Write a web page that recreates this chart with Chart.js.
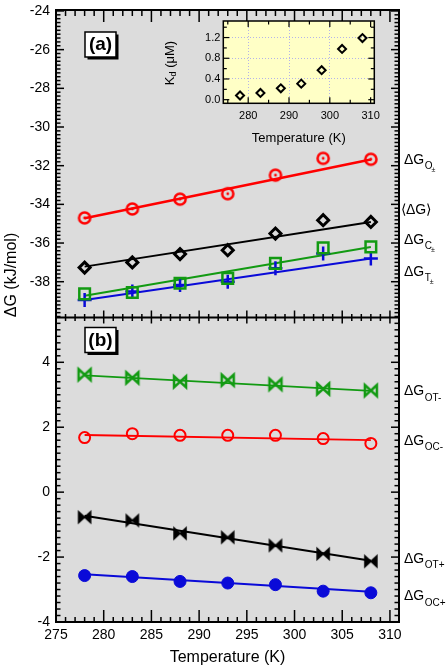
<!DOCTYPE html>
<html>
<head>
<meta charset="utf-8">
<script src="https://cdn.jsdelivr.net/npm/chart.js@4.4.0/dist/chart.umd.min.js"></script>
<style>
body { margin: 0; background: #fff; }
#wrap { position: relative; width: 448px; height: 670px; }
#inset { position: absolute; left: 150px; top: 10px; }
</style>
</head>
<body>
<div id="wrap">
  <canvas id="main" width="448" height="670"></canvas>
  <canvas id="inset" width="235" height="140"></canvas>
</div>
<script>
const temps = [278, 283, 288, 293, 298, 303, 308];
const fitTemps = [278, 308];

// panel (a), kJ/mol
const dgO = [-34.70, -34.24, -33.73, -33.45, -32.49, -31.62, -31.67];
const dgAvg = [-37.27, -37.00, -36.57, -36.37, -35.51, -34.82, -34.91];
const dgC = [-38.63, -38.56, -38.08, -37.83, -37.05, -36.25, -36.20];
const dgT = [-38.94, -38.51, -38.17, -38.00, -37.31, -36.54, -36.80];
const fitO = [-34.72, -31.68];
const fitAvg = [-37.22, -34.91];
const fitC = [-38.72, -36.20];
const fitT = [-38.95, -36.80];

// panel (b)
const dgOTm = [3.62, 3.52, 3.40, 3.45, 3.32, 3.18, 3.13];
const dgOCm = [1.68, 1.80, 1.75, 1.75, 1.75, 1.65, 1.50];
const dgOTp = [-0.77, -0.87, -1.27, -1.39, -1.64, -1.90, -2.13];
const dgOCp = [-2.57, -2.60, -2.75, -2.80, -2.85, -3.05, -3.10];
const fitOTm = [3.60, 3.12];
const fitOCm = [1.76, 1.60];
const fitOTp = [-0.73, -2.11];
const fitOCp = [-2.53, -3.07];

// inset, Kd in uM
const kd = [0.08, 0.13, 0.22, 0.31, 0.57, 0.98, 1.19];

const xTicks = [275, 280, 285, 290, 295, 300, 305, 310];
const yTicksA = [-38, -36, -34, -32, -30, -28, -26, -24];
const yTicksB = [-4, -2, 0, 2, 4];
const insetXTicks = [280, 290, 300, 310];
const insetYTicks = [0, 0.4, 0.8, 1.2];

// series names on the right and the value they sit at
const namesA = [['ΔG', 'O', '±'], ['⟨ΔG⟩', '', ''], ['ΔG', 'C', '±'], ['ΔG', 'T', '±']];
const nameAtA = [-31.7, -34.3, -35.85, -37.5];
const namesB = [['ΔG', 'OT-'], ['ΔG', 'OC-'], ['ΔG', 'OT+'], ['ΔG', 'OC+']];
const nameAtB = [3.1, 1.57, -2.06, -3.21];

const RED = '#ff0000';
const BLACK = '#000000';
const GREEN = '#129a12';
const BLUE = '#0a0ad8';
const FONT = "'Liberation Sans', Arial, sans-serif";

Chart.defaults.color = '#000';
Chart.defaults.font.family = FONT;

function marker(size, paint) {
    const c = document.createElement('canvas');
    c.width = size;
    c.height = size;
    paint(c.getContext('2d'), size / 2);
    return c;
}

const circleDot = marker(18, (g, m) => {
    g.strokeStyle = RED;
    g.lineWidth = 2.5;
    g.beginPath();
    g.arc(m, m, 5.6, 0, Math.PI * 2);
    g.stroke();
    g.fillStyle = RED;
    g.beginPath();
    g.arc(m, m, 1.4, 0, Math.PI * 2);
    g.fill();
});

function bowtie(color, filled) {
    return marker(18, (g, m) => {
        g.beginPath();
        g.moveTo(m - 6, m - 5.5);
        g.lineTo(m, m);
        g.lineTo(m - 6, m + 5.5);
        g.closePath();
        g.moveTo(m + 6, m - 5.5);
        g.lineTo(m, m);
        g.lineTo(m + 6, m + 5.5);
        g.closePath();
        g.lineJoin = 'miter';
        g.strokeStyle = color;
        g.lineWidth = filled ? 1.5 : 2.5;
        if (filled) {
            g.fillStyle = color;
            g.fill();
        }
        g.stroke();
    });
}

function pts(ys) {
    return temps.map((t, i) => ({ x: t, y: ys[i] }));
}

function markers(ys, axis, style, radius, color, bw, fill) {
    return {
        data: pts(ys), yAxisID: axis, showLine: false,
        pointStyle: style, pointRadius: radius, pointHoverRadius: radius,
        pointBorderColor: color, pointBackgroundColor: fill || 'rgba(0,0,0,0)',
        pointBorderWidth: bw
    };
}

function fitLine(ys, axis, color, w) {
    return {
        data: fitTemps.map((t, i) => ({ x: t, y: ys[i] })), yAxisID: axis,
        showLine: true, borderColor: color, borderWidth: w, pointRadius: 0
    };
}

function stepRun(from, to, step, cb) {
    const n0 = Math.ceil(from / step - 1e-6);
    const n1 = Math.floor(to / step + 1e-6);
    for (let k = n0; k <= n1; k++) cb(k * step);
}

function isMult(v, m) {
    return Math.abs(v / m - Math.round(v / m)) < 1e-6;
}

function seg(ctx, x1, y1, x2, y2) {
    ctx.beginPath();
    ctx.moveTo(x1, y1);
    ctx.lineTo(x2, y2);
    ctx.stroke();
}

function subLabel(ctx, x, y, main, sub, sub2) {
    ctx.textAlign = 'left';
    ctx.textBaseline = 'middle';
    ctx.fillStyle = '#000';
    ctx.font = '14px ' + FONT;
    ctx.fillText(main, x, y);
    if (!sub) return;
    const w = ctx.measureText(main).width;
    ctx.font = '10px ' + FONT;
    ctx.fillText(sub, x + w + 0.5, y + 6.5);
    if (sub2) {
        const w2 = ctx.measureText(sub).width;
        ctx.font = '7px ' + FONT;
        ctx.fillText(sub2, x + w + w2 - 0.5, y + 10);
    }
}

function panelTag(ctx, x, y, text) {
    ctx.fillStyle = '#000';
    ctx.fillRect(x + 2.5, y + 2.5, 31, 25);
    ctx.fillStyle = '#fff';
    ctx.fillRect(x, y, 31, 25);
    ctx.strokeStyle = '#000';
    ctx.lineWidth = 1.5;
    ctx.strokeRect(x, y, 31, 25);
    ctx.fillStyle = '#000';
    ctx.font = 'bold 19px ' + FONT;
    ctx.textAlign = 'center';
    ctx.textBaseline = 'middle';
    ctx.fillText(text, x + 15.5, y + 13);
}

const mainDecor = {
    id: 'mainDecor',
    beforeDraw(chart) {
        const { ctx, chartArea: a } = chart;
        ctx.save();
        ctx.fillStyle = '#dcdcdc';
        ctx.fillRect(a.left, a.top, a.right - a.left, a.bottom - a.top);
        ctx.restore();
    },
    afterDatasetsDraw(chart) {
        const { ctx, chartArea: a } = chart;
        const xs = chart.scales.x, ya = chart.scales.yA, yb = chart.scales.yB;
        const sep = ya.bottom;
        ctx.save();
        ctx.strokeStyle = '#000';
        ctx.lineWidth = 1.5;
        [ya, yb].forEach(s => {
            stepRun(s.min, s.max, 0.2, v => {
                const y = s.getPixelForValue(v);
                const len = isMult(v, 2) ? 8 : 4.5;
                seg(ctx, a.left, y, a.left + len, y);
                seg(ctx, a.right, y, a.right - len, y);
            });
        });
        stepRun(xs.min, xs.max, 1, v => {
            const x = xs.getPixelForValue(v);
            const major = isMult(v, 5);
            seg(ctx, x, a.top, x, a.top + (major ? 12 : 6));
            seg(ctx, x, a.bottom, x, a.bottom - (major ? 12 : 5));
            seg(ctx, x, sep - (major ? 7 : 3.5), x, sep + (major ? 6 : 3.5));
        });
        ctx.lineWidth = 2;
        ctx.strokeRect(a.left, a.top, a.right - a.left, a.bottom - a.top);
        seg(ctx, a.left, sep, a.right, sep);
        panelTag(ctx, a.left + 29, a.top + 22, '(a)');
        panelTag(ctx, a.left + 29, sep + 10, '(b)');
        ctx.restore();
    },
    afterDraw(chart) {
        const { ctx, chartArea: a } = chart;
        const ya = chart.scales.yA, yb = chart.scales.yB;
        ctx.save();
        namesA.forEach((n, i) => {
            const x = n[0].startsWith('⟨') ? a.right + 2 : a.right + 5;
            subLabel(ctx, x, ya.getPixelForValue(nameAtA[i]), n[0], n[1], n[2]);
        });
        namesB.forEach((n, i) => {
            subLabel(ctx, a.right + 5, yb.getPixelForValue(nameAtB[i]), n[0], n[1]);
        });
        ctx.translate(12, 275);
        ctx.rotate(-Math.PI / 2);
        ctx.font = '16px ' + FONT;
        ctx.textAlign = 'center';
        ctx.textBaseline = 'middle';
        ctx.fillStyle = '#000';
        ctx.fillText('ΔG (kJ/mol)', 0, 0);
        ctx.restore();
    }
};

const tickFont = { family: FONT, size: 14 };

new Chart(document.getElementById('main'), {
    type: 'scatter',
    data: {
        datasets: [
            markers(dgO, 'yA', circleDot, 6, RED, 2.5),
            markers(dgAvg, 'yA', 'rectRot', 5.5, BLACK, 3),
            markers(dgC, 'yA', 'rect', 7.5, GREEN, 2.5),
            markers(dgT, 'yA', 'cross', 7, BLUE, 2.5),
            markers(dgOTm, 'yB', bowtie(GREEN, false), 6, GREEN, 2),
            markers(dgOCm, 'yB', 'circle', 5.5, RED, 2),
            markers(dgOTp, 'yB', bowtie(BLACK, true), 6, BLACK, 2),
            markers(dgOCp, 'yB', 'circle', 6, BLUE, 1, BLUE),
            fitLine(fitO, 'yA', RED, 2.5),
            fitLine(fitAvg, 'yA', BLACK, 2),
            fitLine(fitC, 'yA', GREEN, 2),
            fitLine(fitT, 'yA', BLUE, 2),
            fitLine(fitOTm, 'yB', GREEN, 1.8),
            fitLine(fitOCm, 'yB', RED, 1.8),
            fitLine(fitOTp, 'yB', BLACK, 2),
            fitLine(fitOCp, 'yB', BLUE, 2)
        ]
    },
    options: {
        responsive: false,
        animation: false,
        events: [],
        devicePixelRatio: 1,
        layout: { padding: { top: 7, right: 49, left: 0, bottom: 0 } },
        plugins: { legend: { display: false }, tooltip: { enabled: false } },
        scales: {
            x: {
                type: 'linear', position: 'bottom', min: 275, max: 310.95,
                grid: { display: false, drawTicks: false }, border: { display: false },
                ticks: { font: tickFont, color: '#000', padding: 5, autoSkip: false, maxRotation: 0 },
                afterBuildTicks: s => { s.ticks = xTicks.map(v => ({ value: v })); },
                afterFit: s => { s.height = 48; s.paddingLeft = 0; s.paddingRight = 0; },
                title: { display: true, text: 'Temperature (K)', font: { family: FONT, size: 16 }, color: '#000', padding: { top: 0, bottom: 3 } }
            },
            // bottom panel listed first: the stacked left boxes are laid out in reverse
            yB: {
                type: 'linear', position: 'left', stack: 'panels', stackWeight: 306,
                min: -4, max: 5.38,
                grid: { display: false, drawTicks: false }, border: { display: false },
                ticks: { font: tickFont, color: '#000', padding: 6 },
                afterBuildTicks: s => { s.ticks = yTicksB.map(v => ({ value: v })); },
                afterFit: s => { s.width = 56; s.paddingTop = 0; s.paddingBottom = 0; }
            },
            yA: {
                type: 'linear', position: 'left', stack: 'panels', stackWeight: 309,
                min: -39.85, max: -23.95,
                grid: { display: false, drawTicks: false }, border: { display: false },
                ticks: { font: tickFont, color: '#000', padding: 6 },
                afterBuildTicks: s => { s.ticks = yTicksA.map(v => ({ value: v })); },
                afterFit: s => { s.width = 56; s.paddingTop = 0; s.paddingBottom = 0; }
            }
        }
    },
    plugins: [mainDecor]
});

const insetDecor = {
    id: 'insetDecor',
    beforeDraw(chart) {
        const { ctx, chartArea: a } = chart;
        ctx.save();
        ctx.fillStyle = '#ffffc6';
        ctx.fillRect(a.left, a.top, a.right - a.left, a.bottom - a.top);
        ctx.restore();
    },
    afterDatasetsDraw(chart) {
        const { ctx, chartArea: a } = chart;
        const xs = chart.scales.x, ys = chart.scales.y;
        ctx.save();
        ctx.strokeStyle = '#000';
        ctx.lineWidth = 1.2;
        stepRun(ys.min, ys.max, 0.2, v => {
            const y = ys.getPixelForValue(v);
            const len = isMult(v, 0.4) ? 6 : 3.5;
            seg(ctx, a.left, y, a.left + len, y);
            seg(ctx, a.right, y, a.right - len, y);
        });
        stepRun(xs.min, xs.max, 5, v => {
            const x = xs.getPixelForValue(v);
            const len = isMult(v, 10) ? 6 : 3.5;
            seg(ctx, x, a.top, x, a.top + len);
            seg(ctx, x, a.bottom, x, a.bottom - len);
        });
        ctx.lineWidth = 1.5;
        ctx.strokeRect(a.left, a.top, a.right - a.left, a.bottom - a.top);

        // K_d (uM) axis title
        ctx.translate(20, 53);
        ctx.rotate(-Math.PI / 2);
        ctx.fillStyle = '#000';
        ctx.textBaseline = 'middle';
        ctx.textAlign = 'left';
        const big = '13px ' + FONT, small = '9px ' + FONT;
        ctx.font = big;
        const wK = ctx.measureText('K').width;
        const wRest = ctx.measureText(' (μM)').width;
        ctx.font = small;
        const wd = ctx.measureText('d').width;
        let x = -(wK + wd + wRest) / 2;
        ctx.font = big;
        ctx.fillText('K', x, 0);
        x += wK;
        ctx.font = small;
        ctx.fillText('d', x, 4);
        x += wd;
        ctx.font = big;
        ctx.fillText(' (μM)', x, 0);
        ctx.restore();
    }
};

const insetTickFont = { family: FONT, size: 11 };

new Chart(document.getElementById('inset'), {
    type: 'scatter',
    data: {
        datasets: [{
            data: pts(kd), showLine: false, pointStyle: 'rectRot',
            pointRadius: 4, pointBorderColor: BLACK, pointBorderWidth: 2,
            pointBackgroundColor: 'rgba(0,0,0,0)'
        }]
    },
    options: {
        responsive: false,
        animation: false,
        events: [],
        devicePixelRatio: 1,
        layout: { padding: { top: 11, right: 10.7, left: 0, bottom: 0 } },
        plugins: { legend: { display: false }, tooltip: { enabled: false } },
        scales: {
            x: {
                type: 'linear', min: 273.9, max: 310.9,
                grid: {
                    drawTicks: false, lineWidth: 1,
                    color: c => (c.tick && c.tick.value >= 305) ? 'rgba(0,0,0,0)' : '#b4b4e8'
                },
                border: { display: false, dash: [1, 2] },
                ticks: { font: insetTickFont, color: '#000', padding: 6, autoSkip: false, maxRotation: 0 },
                afterBuildTicks: s => { s.ticks = insetXTicks.map(v => ({ value: v })); },
                afterFit: s => { s.height = 46.7; s.paddingLeft = 0; s.paddingRight = 0; },
                title: { display: true, text: 'Temperature (K)', font: { family: FONT, size: 13 }, color: '#000', padding: { top: 0, bottom: 4 } }
            },
            y: {
                type: 'linear', min: -0.07, max: 1.52,
                grid: {
                    drawTicks: false, lineWidth: 1,
                    color: c => (c.tick && Math.abs(c.tick.value) < 1e-6) ? 'rgba(0,0,0,0)' : '#b4b4e8'
                },
                border: { display: false, dash: [1, 2] },
                ticks: { font: insetTickFont, color: '#000', padding: 3, callback: v => v.toFixed(1) },
                afterBuildTicks: s => { s.ticks = insetYTicks.map(v => ({ value: v })); },
                afterFit: s => { s.width = 73.3; s.paddingTop = 0; s.paddingBottom = 0; }
            }
        }
    },
    plugins: [insetDecor]
});
</script>
</body>
</html>
